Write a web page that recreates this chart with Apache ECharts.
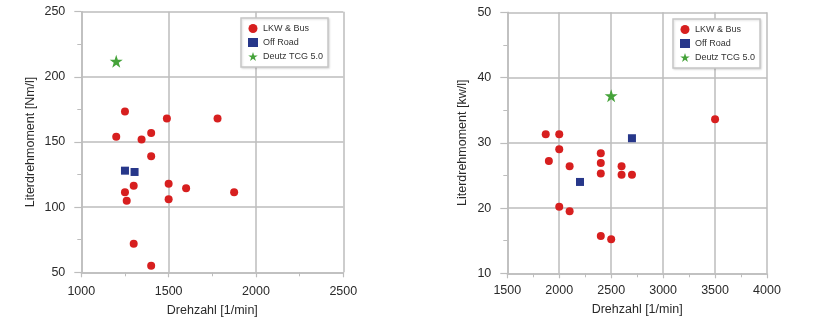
<!DOCTYPE html>
<html>
<head>
<meta charset="utf-8">
<script src="https://cdn.jsdelivr.net/npm/echarts@6/dist/echarts.min.js"></script>
<style>
  html, body { margin: 0; padding: 0; background: #fff; }
  #chart { width: 840px; height: 325px; }
</style>
</head>
<body>
<div id="chart"></div>
<script>
// Series names
const seriesNames = ['LKW & Bus', 'Off Road', 'Deutz TCG 5.0'];

// Left panel: specific torque [Nm/l] vs. engine speed [1/min]
const torqueLkw = [[1250,173.5],[1490,168],[1780,168],[1200,154],[1400,157],[1345,152],[1400,139],
  [1250,111.5],[1300,116.5],[1260,105],[1500,118],[1500,106],[1600,114.5],[1875,111.5],[1300,72],[1400,55]];
const torqueOffRoad = [[1250,128],[1305,127]];
const torqueDeutz = [[1200,212]];

// Right panel: specific power [kw/l] vs. engine speed [1/min]
const powerLkw = [[1870,31.3],[2000,31.3],[2000,29],[1900,27.2],[2100,26.4],[2400,28.4],[2400,26.9],
  [2400,25.3],[2600,26.4],[2600,25.1],[2700,25.1],[2000,20.2],[2100,19.5],[2400,15.7],[2500,15.2],[3500,33.6]];
const powerOffRoad = [[2200,24],[2700,30.7]];
const powerDeutz = [[2500,37.2]];

// Axis ranges
const leftX = { min: 1000, max: 2500, interval: 500 };
const leftY = { min: 50, max: 250, interval: 50 };
const rightX = { min: 1500, max: 4000, interval: 500 };
const rightY = { min: 10, max: 50, interval: 10 };

const FONT = 'Liberation Sans, Arial, sans-serif';
const GRID_COLOR = '#bdbdbd';
const TEXT_COLOR = '#2a2a2a';
const STAR = 'path://M50,0 L61.8,35.3 L99,35.3 L69,57.4 L80.4,93 L50,71 L19.6,93 L31,57.4 L1,35.3 L38.2,35.3 Z';

function axis(range, gridIndex, name, nameGap, labelMargin, isY) {
  return {
    type: 'value', gridIndex: gridIndex,
    min: range.min, max: range.max, interval: range.interval,
    name: name, nameLocation: 'middle', nameGap: nameGap,
    nameTextStyle: { fontFamily: FONT, fontSize: 12.5, color: TEXT_COLOR },
    axisLine: { show: true, onZero: false, lineStyle: { color: GRID_COLOR, width: 1.5 } },
    axisTick: { show: true, length: isY ? 7 : 5, lineStyle: { color: GRID_COLOR, width: 1.2 } },
    minorTick: { show: true, splitNumber: 2, length: 4, lineStyle: { color: GRID_COLOR, width: 1 } },
    splitLine: { show: true, lineStyle: { color: GRID_COLOR, width: 1.5 } },
    axisLabel: { fontFamily: FONT, fontSize: 12.5, color: TEXT_COLOR, margin: labelMargin,
      formatter: function (v) { return String(v); } }
  };
}

function legend(left, top) {
  return {
    left: left, top: top, orient: 'vertical',
    data: [
      { name: seriesNames[0], icon: 'circle', itemStyle: { color: '#d71f1f' } },
      { name: seriesNames[1], icon: 'rect', itemStyle: { color: '#27378a' } },
      { name: seriesNames[2], icon: STAR, itemStyle: { color: '#45a33a' } }
    ],
    itemWidth: 10, itemHeight: 9, itemGap: 5,
    padding: [6, 5, 6, 7],
    borderColor: '#c6c6c6', borderWidth: 1.5,
    backgroundColor: '#fff',
    shadowColor: 'rgba(0,0,0,0.12)', shadowBlur: 2, shadowOffsetX: 1, shadowOffsetY: 1,
    textStyle: { fontFamily: FONT, fontSize: 9, color: '#333' }
  };
}

function scatterSeries(gridIdx, lkw, off, deutz) {
  return [
    { name: seriesNames[0], type: 'scatter', xAxisIndex: gridIdx, yAxisIndex: gridIdx,
      symbol: 'circle', symbolSize: 8, data: lkw,
      itemStyle: { color: '#d71f1f', opacity: 1 } },
    { name: seriesNames[1], type: 'scatter', xAxisIndex: gridIdx, yAxisIndex: gridIdx,
      symbol: 'rect', symbolSize: 8, data: off,
      itemStyle: { color: '#27378a', opacity: 1 } },
    { name: seriesNames[2], type: 'scatter', xAxisIndex: gridIdx, yAxisIndex: gridIdx,
      symbol: STAR, symbolSize: 13, data: deutz,
      itemStyle: { color: '#45a33a', opacity: 1 } }
  ];
}

const chart = echarts.init(document.getElementById('chart'), null, { renderer: 'canvas' });
chart.setOption({
  animation: false,
  backgroundColor: '#fff',
  grid: [
    { left: 81.3, top: 11.7, width: 262, height: 260.6 },
    { left: 507.3, top: 12.3, width: 259.7, height: 261 }
  ],
  xAxis: [
    axis(leftX, 0, 'Drehzahl [1/min]', 32, 13, false),
    axis(rightX, 1, 'Drehzahl [1/min]', 30, 11, false)
  ],
  yAxis: [
    axis(leftY, 0, 'Literdrehmoment [Nm/l]', 44, 16, true),
    axis(rightY, 1, 'Literdrehmoment [kw/l]', 38, 16, true)
  ],
  legend: [legend(241, 18), legend(673, 19)],
  series: [].concat(
    scatterSeries(0, torqueLkw, torqueOffRoad, torqueDeutz),
    scatterSeries(1, powerLkw, powerOffRoad, powerDeutz)
  )
});
</script>
</body>
</html>
